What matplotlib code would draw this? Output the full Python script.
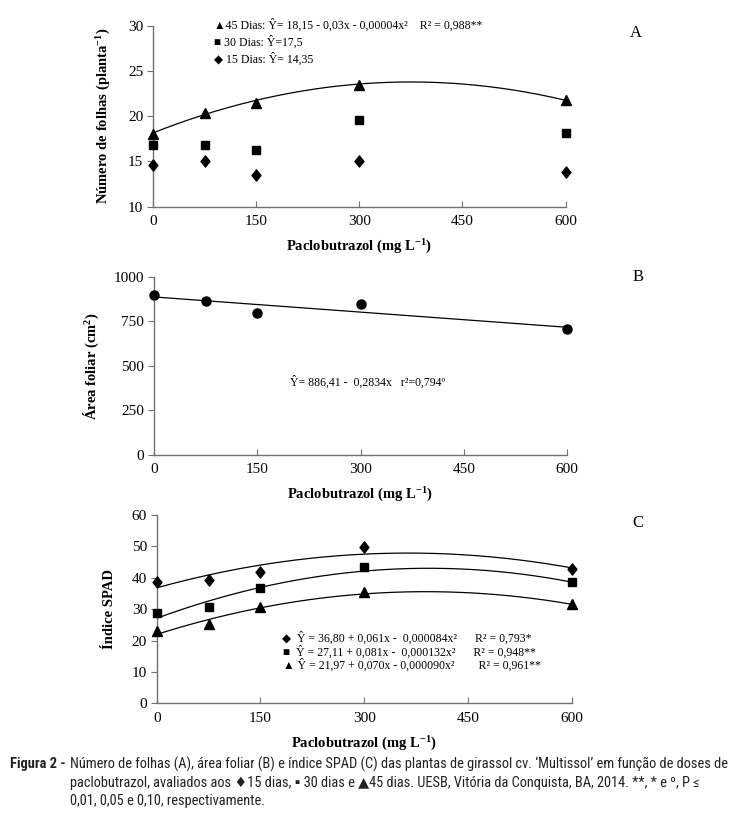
import numpy as np
import matplotlib
matplotlib.use("Agg")
import matplotlib.pyplot as plt
from matplotlib.path import Path

plt.rcParams['font.family'] = ['Liberation Serif', 'DejaVu Sans']
plt.rcParams['mathtext.fontset'] = 'custom'
plt.rcParams['mathtext.rm'] = 'Liberation Serif'
plt.rcParams['mathtext.bf'] = 'Liberation Serif:bold'
plt.rcParams['mathtext.it'] = 'Liberation Serif:italic'

# doses of paclobutrazol (mg L-1)
doses = [0, 75, 150, 300, 600]
xticks = [0, 150, 300, 450, 600]

# panel A - number of leaves
leaves_45 = [18.0, 20.4, 21.5, 23.4, 21.8]
leaves_30 = [16.8, 16.8, 16.3, 19.6, 18.1]
leaves_15 = [14.6, 15.05, 13.5, 15.0, 13.8]
coef_leaves_45 = [18.15, 0.03, -0.00004]

# panel B - leaf area
leaf_area = [897, 865, 794, 846, 706]
coef_area = [886.41, -0.2834]

# panel C - SPAD index
spad_15 = [38.8, 39.3, 41.9, 49.9, 42.7]
spad_30 = [28.7, 30.8, 36.7, 43.3, 38.6]
spad_45 = [23.2, 25.2, 30.7, 35.5, 31.6]
coef_spad_15 = [36.80, 0.061, -0.000084]
coef_spad_30 = [27.11, 0.081, -0.000103]
coef_spad_45 = [21.97, 0.070, -0.000090]

W, H = 743, 822
fig = plt.figure(figsize=(W / 100, H / 100), dpi=100)

def px(x0, y0, x1, y1):
    return [x0 / W, 1 - y1 / H, (x1 - x0) / W, (y1 - y0) / H]

def style(ax, yticks):
    for s in ['top', 'right']:
        ax.spines[s].set_visible(False)
    for s in ['left', 'bottom']:
        ax.spines[s].set_color('#707070')
        ax.spines[s].set_linewidth(1.0)
    ax.set_xlim(0, 600)
    ax.set_xticks(xticks)
    ax.set_yticks(yticks)
    ax.set_ylim(yticks[0], yticks[-1])
    ax.tick_params(axis='y', direction='out', length=4, color='#707070', labelsize=11, pad=3)
    ax.tick_params(axis='x', direction='in', length=4, color='#707070', labelsize=11, pad=6)
    ax.set_xlabel('Paclobutrazol (mg L$^{\\mathbf{-1}}$)', fontsize=10.5, fontweight='bold', labelpad=7)

def poly(c, x):
    return sum(ci * x ** i for i, ci in enumerate(c))

diamond = Path([(0, 1), (0.8, 0), (0, -1), (-0.8, 0), (0, 1)], closed=True)

xs = np.linspace(0, 600, 300)
mk = dict(color='black', linestyle='none', clip_on=False, zorder=3)
tri = dict(marker='^', markersize=7.5)
sq = dict(marker='s', markersize=5.5)
dia = dict(marker=diamond, markersize=8)

# A
axA = fig.add_axes(px(153, 25.6, 565.5, 206.7))
style(axA, [10, 15, 20, 25, 30])
axA.plot(xs, poly(coef_leaves_45, xs), color='black', lw=0.9)
axA.plot(doses, leaves_45, **tri, **mk)
axA.plot(doses, leaves_30, **sq, **mk)
axA.plot(doses, leaves_15, **dia, **mk)
axA.set_ylabel('Número de folhas (planta$^{\\mathbf{-1}}$)', fontsize=10.5, fontweight='bold', labelpad=11)

# B
axB = fig.add_axes(px(154, 276.7, 567, 455))
style(axB, [0, 250, 500, 750, 1000])
axB.plot(xs, poly(coef_area, xs), color='black', lw=0.9)
axB.plot(doses, leaf_area, marker='o', markersize=6.5, **mk)
axB.set_ylabel('Área foliar (cm$^{\\mathbf{2}}$)', fontsize=10.5, fontweight='bold', labelpad=9)

# C
axC = fig.add_axes(px(156.7, 515, 571.7, 703.4))
style(axC, [0, 10, 20, 30, 40, 50, 60])
for c in [coef_spad_15, coef_spad_30, coef_spad_45]:
    axC.plot(xs, poly(c, xs), color='black', lw=0.9)
axC.plot(doses, spad_15, **dia, **mk)
axC.plot(doses, spad_30, **sq, **mk)
axC.plot(doses, spad_45, **tri, **mk)
axC.set_ylabel('Índice SPAD', fontsize=10.5, fontweight='bold', labelpad=11)

def ft(x, y, s, **kw):
    return fig.text(x / W, 1 - y / H, s, va='center', **kw)

# panel letters
ft(636, 33, 'A', fontsize=12, ha='center')
ft(638, 277, 'B', fontsize=12, ha='center')
ft(638, 523, 'C', fontsize=12, ha='center')

eq = 8.5
# equations A
ft(214, 25, '▲45 Dias: Ŷ= 18,15 - 0,03x - 0,00004x²    R² = 0,988**', fontsize=eq)
ft(214, 42, '■ 30 Dias: Ŷ=17,5', fontsize=eq)
ft(214, 59, '◆ 15 Dias: Ŷ= 14,35', fontsize=eq)

# equation B
ft(290, 382, 'Ŷ= 886,41 -  0,2834x   r²=0,794º', fontsize=eq)

# equations C
ft(282, 638, '◆  Ŷ = 36,80 + 0,061x -  0,000084x²      R² = 0,793*', fontsize=eq)
ft(283, 652, '■  Ŷ = 27,11 + 0,081x -  0,000132x²      R² = 0,948**', fontsize=eq)
ft(283, 665.5, '▲ Ŷ = 21,97 + 0,070x - 0,000090x²        R² = 0,961**', fontsize=eq)

# caption
cap_font = ['Roboto Condensed', 'DejaVu Sans Condensed', 'Liberation Sans Narrow', 'Lato', 'DejaVu Sans']
cap_color = '#222222'
cap_lines = ['Número de folhas (A), área foliar (B) e índice SPAD (C) das plantas de girassol cv. ‘Multissol’ em função de doses de',
             'paclobutrazol, avaliados aos ♦15 dias, ▪ 30 dias e ▲45 dias. UESB, Vitória da Conquista, BA, 2014. **, * e º, P ≤',
             '0,01, 0,05 e 0,10, respectivamente.']
fig.canvas.draw()
r = fig.canvas.get_renderer()
fs = 10.5
lab = ft(10, 764, 'Figura 2 -', fontsize=fs, fontweight='bold', family=cap_font, color=cap_color)
t1 = ft(70, 764, cap_lines[0], fontsize=fs, family=cap_font, color=cap_color)
for _ in range(3):
    lw = lab.get_window_extent(r).width
    x_start = 10 + lw + 4
    w1 = t1.get_window_extent(r).width
    fs = fs * (731 - x_start) / w1
    lab.set_fontsize(fs)
    t1.set_fontsize(fs)
    lw = lab.get_window_extent(r).width
    x_start = 10 + lw + 4
    t1.set_x(x_start / W)
t2 = ft(x_start, 783, cap_lines[1], fontsize=fs, family=cap_font, color=cap_color)
t3 = ft(x_start, 801, cap_lines[2], fontsize=fs, family=cap_font, color=cap_color)

fig.savefig('out.png', dpi=100)
